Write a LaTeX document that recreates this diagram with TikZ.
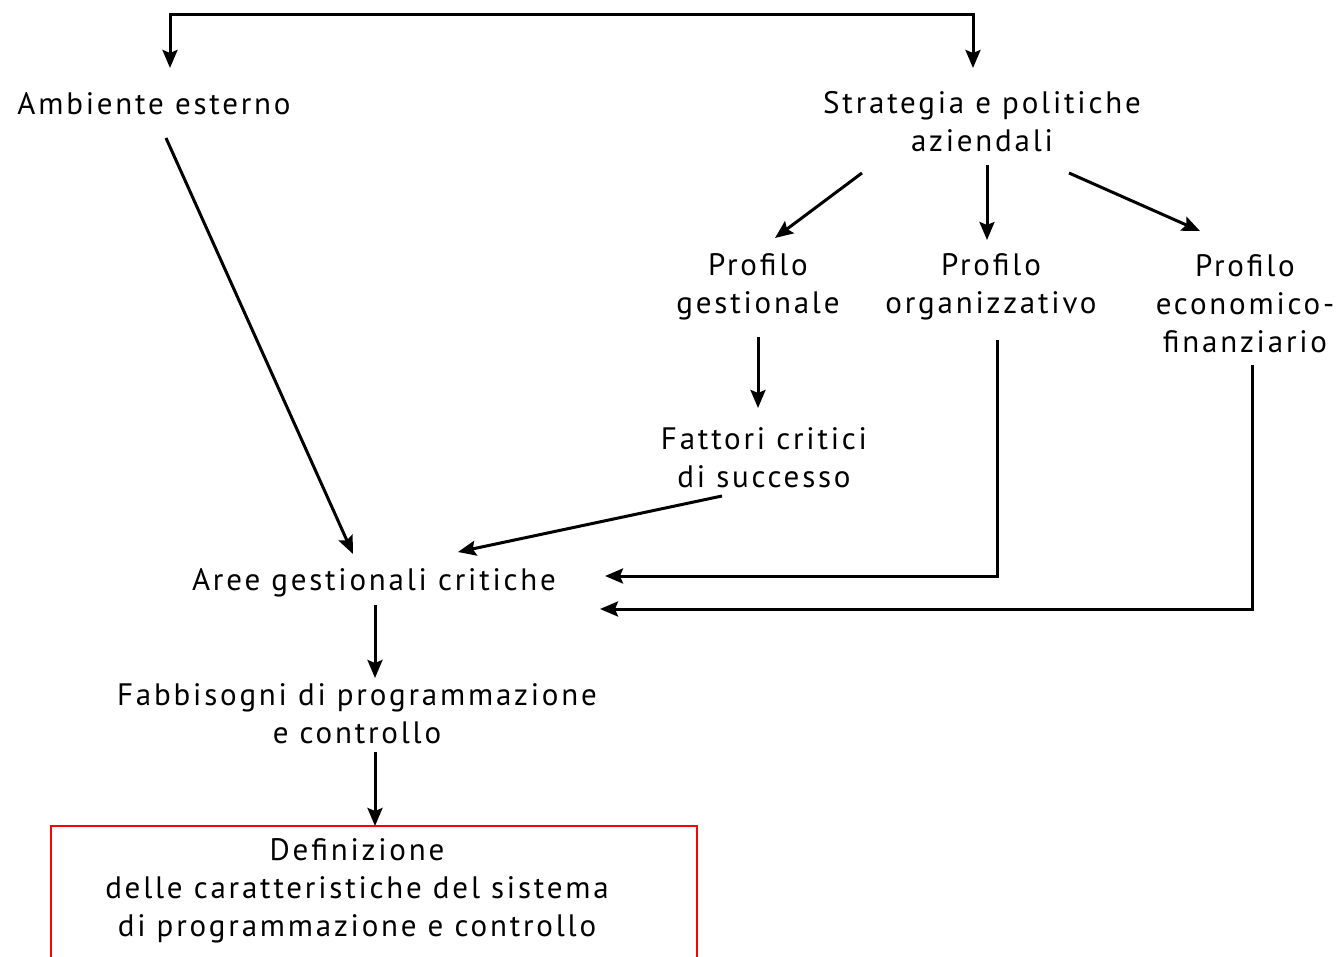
\documentclass[tikz,border=0pt]{standalone}
\usepackage{fontspec}
\setmainfont[LetterSpace=9]{PT Sans}
\usetikzlibrary{arrows.meta}
\begin{document}
\begin{tikzpicture}[x=1pt,y=-1pt,
  lbl/.style={inner sep=0pt, align=center, font=\fontsize{31}{38}\selectfont},
  arr/.style={line width=3pt, -{Stealth[length=18pt,width=15pt,inset=3pt]}},
  darr/.style={line width=3pt, {Stealth[length=18pt,width=15pt,inset=3pt]}-{Stealth[length=18pt,width=15pt,inset=3pt]}},
  redbox/.style={draw=red, line width=2.5pt}]
\useasboundingbox (0,0) rectangle (1342,957);
\clip (0,0) rectangle (1342,957);
% nodes
\node[lbl] (amb) at (154,104) {Ambiente esterno};
\node[lbl] (strat) at (982,122) {Strategia e politiche\\aziendali};
\node[lbl] (pges) at (758,287) {Profilo\\gestionale};
\node[lbl] (porg) at (991,287) {Profilo\\organizzativo};
\node[lbl] (peco) at (1245,304) {Profilo\\economico-\\finanziario};
\node[lbl] (fatt) at (764,458) {Fattori critici\\di successo};
\node[lbl] (aree) at (374,583) {Aree gestionali critiche};
\node[lbl] (fabb) at (357,714) {Fabbisogni di programmazione\\e controllo};
\draw[redbox] (51,826) rectangle (697,990);
\node[lbl] (defi) at (357,891) {Definizione\\delle caratteristiche del sistema\\di programmazione e controllo};
% coordinates
\coordinate (ambIn) at (170,68);
\coordinate (stratIn) at (973,68);
\coordinate (ambOut) at (166,138);
\coordinate (areeInA) at (353,554);
\coordinate (stratL) at (862,173);
\coordinate (pgesIn) at (775,238);
\coordinate (stratM) at (987,165);
\coordinate (porgIn) at (987,240);
\coordinate (stratR) at (1069,173);
\coordinate (pecoIn) at (1200,231);
\coordinate (pgesOut) at (758,337);
\coordinate (fattIn) at (758,408);
\coordinate (fattOut) at (722,496);
\coordinate (areeInF) at (458,552);
\coordinate (porgOut) at (997,340);
\coordinate (areeInO) at (605,576);
\coordinate (pecoOut) at (1252,365);
\coordinate (areeInE) at (600,609);
\coordinate (areeOut) at (375,605);
\coordinate (fabbIn) at (375,678);
\coordinate (fabbOut) at (375,752);
\coordinate (defiIn) at (375,826);
% connectors
\draw[darr] (ambIn) |- (stratIn |- 0,15) -- (stratIn);
\draw[arr] (ambOut) -- (areeInA);
\draw[arr] (stratL) -- (pgesIn);
\draw[arr] (stratM) -- (porgIn);
\draw[arr] (stratR) -- (pecoIn);
\draw[arr] (pgesOut) -- (fattIn);
\draw[arr] (fattOut) -- (areeInF);
\draw[arr] (porgOut) |- (areeInO);
\draw[arr] (pecoOut) |- (areeInE);
\draw[arr] (areeOut) -- (fabbIn);
\draw[arr] (fabbOut) -- (defiIn);
\end{tikzpicture}
\end{document}
